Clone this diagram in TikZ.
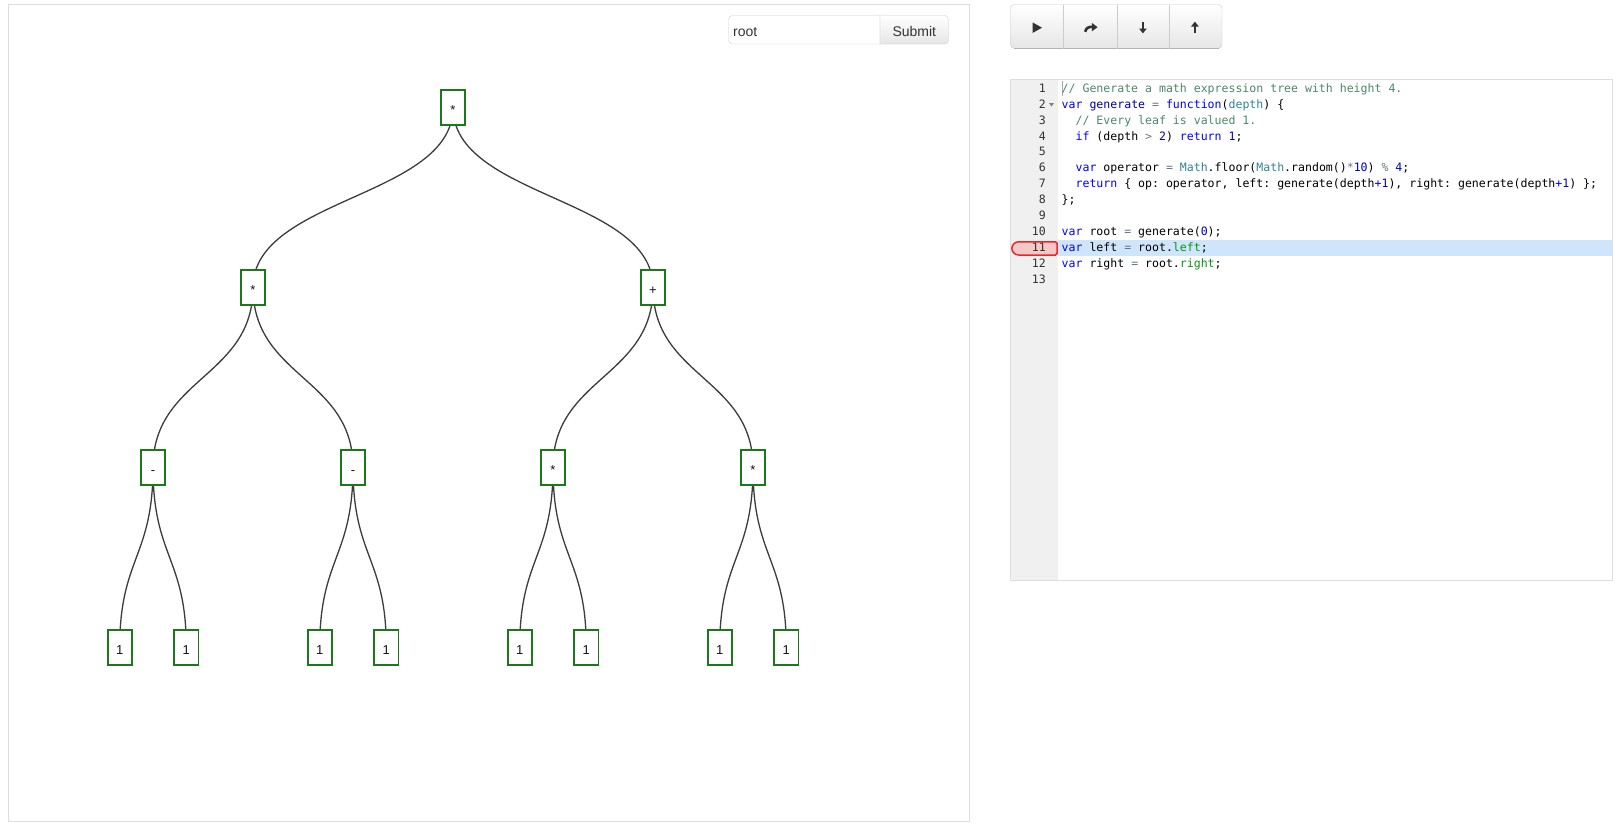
\documentclass[tikz,border=0pt]{standalone}
\usepackage{fontspec}
\setmainfont{Liberation Sans}
\newfontfamily\codefam{DejaVu Sans Mono}
\usetikzlibrary{backgrounds}
\frenchspacing

\definecolor{treegreen}{RGB}{26,122,26}
\definecolor{treetext}{RGB}{20,20,30}
\definecolor{linkgray}{RGB}{60,60,60}
\definecolor{panelgray}{RGB}{221,221,221}
\definecolor{btnborder}{RGB}{204,204,204}
\definecolor{btnbottom}{RGB}{179,179,179}
\definecolor{btnlow}{RGB}{230,230,230}
\definecolor{icongray}{RGB}{51,51,51}
\definecolor{guttergray}{RGB}{240,240,240}
\definecolor{activeline}{RGB}{207,229,251}
\definecolor{bpred}{RGB}{232,40,40}
\definecolor{bppink}{RGB}{244,200,200}
\definecolor{ckwc}{RGB}{0,0,255}
\definecolor{ccmc}{RGB}{76,136,107}
\definecolor{cnumc}{RGB}{0,0,205}
\definecolor{copc}{RGB}{104,118,135}
\definecolor{cvarc}{RGB}{49,132,149}
\definecolor{ccstc}{RGB}{6,150,14}
\definecolor{cfnc}{RGB}{0,0,162}

\newcommand{\ckw}[1]{\textcolor{ckwc}{#1}}
\newcommand{\ccm}[1]{\textcolor{ccmc}{#1}}
\newcommand{\cnum}[1]{\textcolor{cnumc}{#1}}
\newcommand{\cop}[1]{\textcolor{copc}{#1}}
\newcommand{\cvar}[1]{\textcolor{cvarc}{#1}}
\newcommand{\ccst}[1]{\textcolor{ccstc}{#1}}
\newcommand{\cfn}[1]{\textcolor{cfnc}{#1}}

\tikzset{
  treenode/.style={draw=treegreen, line width=1.8pt, fill=white, minimum width=24.2pt, minimum height=35.2pt, inner sep=0pt, text height=13pt, text depth=0pt, text=treetext, font=\fontsize{13}{15}\selectfont},
  link/.style={draw=linkgray, line width=1.3pt},
  codeline/.style={anchor=base west, inner sep=0pt, font=\codefam\fontsize{11.55}{14}\selectfont},
  lineno/.style={anchor=base east, inner sep=0pt, text=icongray, font=\codefam\fontsize{11.55}{14}\selectfont},
  panel/.style={draw=panelgray, line width=1pt},
  uitext/.style={inner sep=0pt, font=\fontsize{14}{16}\selectfont},
  icon/.style={fill=icongray},
}

\begin{document}
\begin{tikzpicture}[x=1pt,y=-1pt]
\useasboundingbox (0,0) rectangle (1621,827);
\begin{scope}[on background layer]
  \fill[white] (0,0) rectangle (1621,827);
\end{scope}

% tree panel
\draw[panel] (8.5,4.5) rectangle (969.5,821);
\draw[btnborder, fill=white] (880,15.5) [rounded corners=4] -- (728.5,15.5) -- (728.5,44) [sharp corners] -- (880,44) -- cycle;
\path[draw=btnborder, top color=white, bottom color=btnlow] (880,15.5) [rounded corners=4] -- (948.5,15.5) -- (948.5,44) [sharp corners] -- (880,44) -- cycle;
\node[uitext, anchor=base west, text=icongray] (query) at (733,36) {root};
\node[uitext, anchor=base, text=icongray] (submit) at (914.3,36) {Submit};

\node[treenode] (T0) at (453,107.5) {*};
\node[treenode] (T1) at (253,287.5) {*};
\node[treenode] (T2) at (653,287.5) {+};
\node[treenode] (T3) at (153,467.5) {-};
\node[treenode] (T4) at (353,467.5) {-};
\node[treenode] (T5) at (553,467.5) {*};
\node[treenode] (T6) at (753,467.5) {*};
\node[treenode] (T7) at (119.7,647.5) {1};
\node[treenode] (T8) at (186.3,647.5) {1};
\node[treenode] (T9) at (319.7,647.5) {1};
\node[treenode] (T10) at (386.3,647.5) {1};
\node[treenode] (T11) at (519.7,647.5) {1};
\node[treenode] (T12) at (586.3,647.5) {1};
\node[treenode] (T13) at (719.7,647.5) {1};
\node[treenode] (T14) at (786.3,647.5) {1};
\begin{scope}[on background layer]
  \draw[link] (T0.center) .. controls +(0,90) and +(0,-90) .. (T1.center);
  \draw[link] (T0.center) .. controls +(0,90) and +(0,-90) .. (T2.center);
  \draw[link] (T1.center) .. controls +(0,90) and +(0,-90) .. (T3.center);
  \draw[link] (T1.center) .. controls +(0,90) and +(0,-90) .. (T4.center);
  \draw[link] (T2.center) .. controls +(0,90) and +(0,-90) .. (T5.center);
  \draw[link] (T2.center) .. controls +(0,90) and +(0,-90) .. (T6.center);
  \draw[link] (T3.center) .. controls +(0,90) and +(0,-90) .. (T7.center);
  \draw[link] (T3.center) .. controls +(0,90) and +(0,-90) .. (T8.center);
  \draw[link] (T4.center) .. controls +(0,90) and +(0,-90) .. (T9.center);
  \draw[link] (T4.center) .. controls +(0,90) and +(0,-90) .. (T10.center);
  \draw[link] (T5.center) .. controls +(0,90) and +(0,-90) .. (T11.center);
  \draw[link] (T5.center) .. controls +(0,90) and +(0,-90) .. (T12.center);
  \draw[link] (T6.center) .. controls +(0,90) and +(0,-90) .. (T13.center);
  \draw[link] (T6.center) .. controls +(0,90) and +(0,-90) .. (T14.center);
\end{scope}

% toolbar
\path[draw=btnborder, top color=white, bottom color=btnlow, rounded corners=4] (1010.5,4.5) rectangle (1222,48.5);
\draw[btnbottom] (1014,48.5) -- (1218.5,48.5);
\draw[btnborder] (1063.3,4.5) -- (1063.3,48.5);
\draw[btnborder] (1116.7,4.5) -- (1116.7,48.5);
\draw[btnborder] (1169.3,4.5) -- (1169.3,48.5);
\fill[icon] (1032.5,22.4) -- (1042,27.7) -- (1032.5,33) -- cycle;
\draw[icongray, line width=2.6] (1085.2,31.8) .. controls (1086,27.8) and (1088.5,26.8) .. (1092.5,26.8);
\fill[icon] (1091.8,22.8) -- (1097.5,27.2) -- (1091.8,31.4) -- cycle;
\fill[icon] (1141.6,21.7) rectangle (1144.2,29);
\fill[icon] (1139,28.5) -- (1146.8,28.5) -- (1142.9,33.4) -- cycle;
\fill[icon] (1193.7,26) rectangle (1196.3,33.4);
\fill[icon] (1191,26.6) -- (1198.8,26.6) -- (1194.9,21.7) -- cycle;

% code panel
\fill[guttergray] (1010.5,79.5) rectangle (1058,580.5);
\fill[activeline] (1058,240) rectangle (1611.5,255.7);
\draw[panel] (1010.5,79.5) rectangle (1612,580.5);
\draw[bpred, fill=bppink, line width=1.5] (1057,241.8) [rounded corners=6.8] -- (1011.8,241.8) -- (1011.8,255) [rounded corners=1.5] -- (1057,255) -- cycle;
\fill[gray] (1049,103) -- (1054,103) -- (1051.5,106.5) -- cycle;
\draw[gray!70, line width=0.8] (1062.6,80.5) -- (1062.6,96);

\node[lineno] (n1) at (1046,92.3) {1};
\node[lineno] (n2) at (1046,108.2) {2};
\node[lineno] (n3) at (1046,124.1) {3};
\node[lineno] (n4) at (1046,140) {4};
\node[lineno] (n5) at (1046,155.9) {5};
\node[lineno] (n6) at (1046,171.8) {6};
\node[lineno] (n7) at (1046,187.7) {7};
\node[lineno] (n8) at (1046,203.6) {8};
\node[lineno] (n9) at (1046,219.5) {9};
\node[lineno] (n10) at (1046,235.4) {10};
\node[lineno] (n11) at (1046,251.3) {11};
\node[lineno] (n12) at (1046,267.2) {12};
\node[lineno] (n13) at (1046,283.1) {13};

\node[codeline] (c1) at (1061.5,92.3) {\ccm{// Generate a math expression tree with height 4.}};
\node[codeline] (c2) at (1061.5,108.2) {\ckw{var} \cfn{generate} \cop{=} \ckw{function}(\cvar{depth}) \{};
\node[codeline] (c3) at (1061.5,124.1) {\hphantom{xx}\ccm{// Every leaf is valued 1.}};
\node[codeline] (c4) at (1061.5,140) {\hphantom{xx}\ckw{if} (depth \cop{>} \cnum{2}) \ckw{return} \cnum{1};};
\node[codeline] (c6) at (1061.5,171.8) {\hphantom{xx}\ckw{var} operator \cop{=} \cvar{Math}.floor(\cvar{Math}.random()\cop{*}\cnum{10}) \cop{\%} \cnum{4};};
\node[codeline] (c7) at (1061.5,187.7) {\hphantom{xx}\ckw{return} \{ op: operator, left: generate(depth\cnum{+1}), right: generate(depth\cnum{+1}) \};};
\node[codeline] (c8) at (1061.5,203.6) {\};};
\node[codeline] (c10) at (1061.5,235.4) {\ckw{var} root \cop{=} generate(\cnum{0});};
\node[codeline] (c11) at (1061.5,251.3) {\ckw{var} left \cop{=} root.\ccst{left};};
\node[codeline] (c12) at (1061.5,267.2) {\ckw{var} right \cop{=} root.\ccst{right};};
\end{tikzpicture}
\end{document}
